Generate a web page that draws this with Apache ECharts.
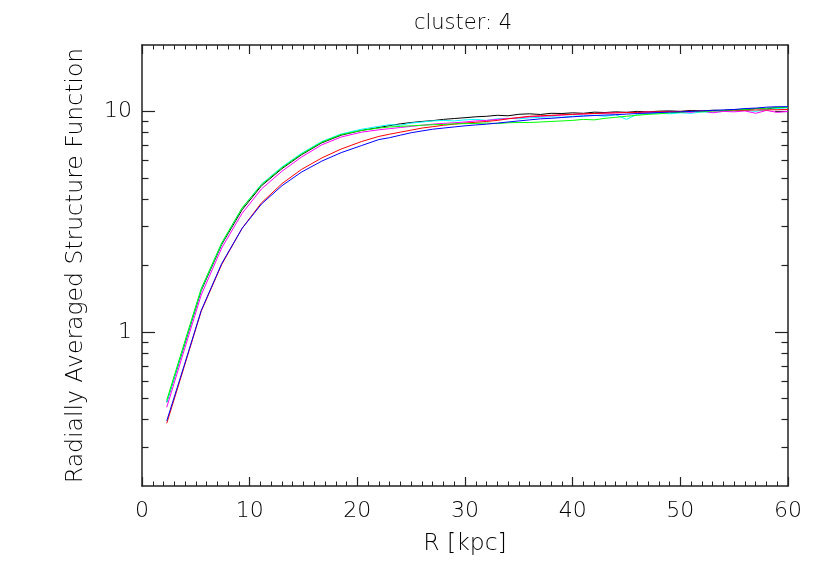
<!DOCTYPE html>
<html>
  <head>
    <meta charset="utf-8" />
    <title>cluster: 4</title>
    <script src="https://cdn.jsdelivr.net/npm/echarts@6/dist/echarts.min.js"></script>
    <style>
      * {
        margin: 0;
        padding: 0;
        box-sizing: border-box;
      }
      body {
        background: #fff;
      }
    </style>
  </head>
  <body>
    <div id="main" style="width: 830px; height: 576px"></div>
    <script type="text/javascript">
      var myChart = echarts.init(document.getElementById("main"));

      // radius in kpc
      const radius = [
        2.3, 3.9, 5.5, 7.4, 9.3, 11.1, 13.0, 14.8, 16.7, 18.5, 20.4, 22, 23,
        24, 25, 26, 27, 28, 29, 30, 31, 32, 33, 34, 35, 36, 37, 38, 39, 40, 41,
        42, 43, 44, 45, 46, 47, 48, 49, 50, 51, 52, 53, 54, 55, 56, 57, 58, 59,
        60,
      ];

      const sfBlack = [
        0.48, 0.86, 1.54, 2.49, 3.58, 4.6, 5.5, 6.35, 7.2, 7.8, 8.2, 8.45,
        8.62, 8.78, 8.9, 9.0, 9.08, 9.2, 9.28, 9.36, 9.45, 9.5, 9.6, 9.55, 9.7,
        9.75, 9.68, 9.8, 9.78, 9.85, 9.8, 9.92, 9.88, 9.95, 9.9, 10.0, 9.95,
        10.02, 10.05, 10.0, 10.1, 10.05, 10.12, 10.1, 10.2, 10.15, 10.3, 10.25,
        10.4, 10.42,
      ];
      const sfCyan = [
        0.48, 0.87, 1.56, 2.52, 3.65, 4.68, 5.6, 6.45, 7.3, 7.9, 8.3, 8.55,
        8.7, 8.65, 8.85, 8.95, 9.05, 9.1, 9.05, 9.15, 9.2, 9.1, 9.25, 9.3,
        9.25, 9.35, 9.4, 9.45, 9.4, 9.5, 9.55, 9.6, 9.5, 9.65, 9.2, 9.7, 9.75,
        9.8, 9.75, 9.85, 9.8, 9.95, 9.9, 10.0, 10.05, 10.1, 10.0, 10.2, 10.3,
        10.4,
      ];
      const sfMagenta = [
        0.455, 0.82, 1.47, 2.4, 3.45, 4.45, 5.35, 6.2, 7.05, 7.65, 8.05, 8.25,
        8.35, 8.45, 8.55, 8.65, 8.75, 8.82, 8.88, 8.95, 9.05, 9.1, 9.2, 9.28,
        9.35, 9.45, 9.5, 9.55, 9.62, 9.68, 9.72, 9.78, 9.82, 9.85, 9.9, 9.88,
        9.95, 9.9, 10.0, 9.95, 9.9, 10.05, 9.85, 10.0, 9.95, 10.05, 9.8, 10.1,
        9.9, 10.0,
      ];
      const sfRed = [
        0.385, 0.69, 1.24, 2.02, 2.95, 3.85, 4.7, 5.45, 6.15, 6.75, 7.3, 7.7,
        7.88, 8.05, 8.22, 8.4, 8.52, 8.65, 8.75, 8.85, 8.92, 9.0, 9.1, 9.25,
        9.38, 9.5, 9.55, 9.6, 9.65, 9.7, 9.75, 9.78, 9.82, 9.85, 9.88, 9.9,
        9.93, 9.95, 9.98, 10.0, 10.02, 10.05, 10.05, 10.08, 10.1, 10.12, 10.15,
        10.15, 10.18, 10.2,
      ];
      const sfGreen = [
        0.49, 0.88, 1.57, 2.53, 3.65, 4.65, 5.55, 6.4, 7.25, 7.85, 8.2, 8.4,
        8.5, 8.55, 8.6, 8.65, 8.7, 8.72, 8.78, 8.8, 8.82, 8.85, 8.8, 8.88, 8.9,
        8.9, 8.95, 9.0, 9.05, 9.1, 9.2, 9.15, 9.3, 9.4, 9.5, 9.6, 9.7, 9.75,
        9.85, 9.9, 10.0, 9.95, 10.05, 10.1, 10.15, 10.2, 10.3, 10.35, 10.4,
        10.45,
      ];
      const sfBlue = [
        0.395, 0.7, 1.25, 2.04, 2.95, 3.8, 4.6, 5.3, 5.95, 6.5, 7.0, 7.45, 7.6,
        7.8, 8.0, 8.15, 8.3, 8.4, 8.5, 8.6, 8.68, 8.75, 8.85, 8.95, 9.05, 9.15,
        9.25, 9.3, 9.38, 9.45, 9.52, 9.58, 9.62, 9.66, 9.72, 9.78, 9.82, 9.88,
        9.92, 9.95, 10.0, 10.05, 10.1, 10.15, 10.2, 10.3, 10.35, 10.45, 10.5,
        10.5,
      ];

      const majorY = [1, 10];
      const minorY = [
        0.3, 0.4, 0.5, 0.6, 0.7, 0.8, 0.9, 2, 3, 4, 5, 6, 7, 8, 9,
      ];

      const curves = [
        { data: sfBlack, color: "#000000" },
        { data: sfCyan, color: "#00ffff" },
        { data: sfMagenta, color: "#ff00ff" },
        { data: sfRed, color: "#ff0000" },
        { data: sfGreen, color: "#00ff00" },
        { data: sfBlue, color: "#0000ff" },
      ];

      const font = "DejaVu Sans";
      const lineCol = "#222";
      const txt = { fontFamily: font, fontWeight: 300, color: "#000" };

      function yAxisDef(position, ticks, len, withText) {
        return {
          type: "log",
          logBase: 10,
          min: 0.2,
          max: 20,
          position: position,
          axisLine: {
            show: withText !== undefined,
            onZero: false,
            lineStyle: { color: lineCol, width: 1.5 },
          },
          axisTick: {
            show: true,
            inside: true,
            length: len,
            customValues: ticks,
            lineStyle: { color: lineCol, width: 1.2 },
          },
          axisLabel: withText
            ? Object.assign(
                { show: true, customValues: ticks, margin: 10, fontSize: 22 },
                txt
              )
            : { show: false },
          splitLine: { show: false },
          name: withText ? "Radially Averaged Structure Function" : "",
          nameLocation: "middle",
          nameGap: 54,
          nameTextStyle: Object.assign({ fontSize: 23.5 }, txt),
        };
      }

      function xAxisDef(position, withText) {
        return {
          type: "value",
          min: 0,
          max: 60,
          interval: 10,
          position: position,
          axisLine: {
            show: true,
            onZero: false,
            lineStyle: { color: lineCol, width: 1.5 },
          },
          axisTick: {
            inside: true,
            length: 9,
            lineStyle: { color: lineCol, width: 1.2 },
          },
          minorTick: {
            show: true,
            splitNumber: 10,
            length: 4.5,
            lineStyle: { color: lineCol, width: 1 },
          },
          axisLabel: withText
            ? Object.assign({ margin: 14, fontSize: 22 }, txt)
            : { show: false },
          splitLine: { show: false },
          name: withText ? "R [kpc]" : "",
          nameLocation: "middle",
          nameGap: 46,
          nameTextStyle: Object.assign({ fontSize: 23.5 }, txt),
        };
      }

      var option = {
        backgroundColor: "#fff",
        animation: false,
        title: {
          text: "cluster: 4",
          left: 458,
          top: 8,
          textAlign: "center",
          textStyle: Object.assign({ fontSize: 21 }, txt),
        },
        grid: { left: 142, right: 42, top: 45, bottom: 90 },
        xAxis: [xAxisDef("bottom", true), xAxisDef("top", false)],
        yAxis: [
          yAxisDef("left", majorY, 13, true),
          yAxisDef("left", minorY, 6.5),
          yAxisDef("right", majorY, 13, false),
          yAxisDef("right", minorY, 6.5),
        ],
        series: curves.map((c) => ({
          type: "line",
          xAxisIndex: 0,
          yAxisIndex: 0,
          showSymbol: false,
          symbol: "none",
          lineStyle: { color: c.color, width: 1 },
          data: radius.map((r, i) => [r, c.data[i]]),
        })),
      };

      myChart.setOption(option);
    </script>
  </body>
</html>
